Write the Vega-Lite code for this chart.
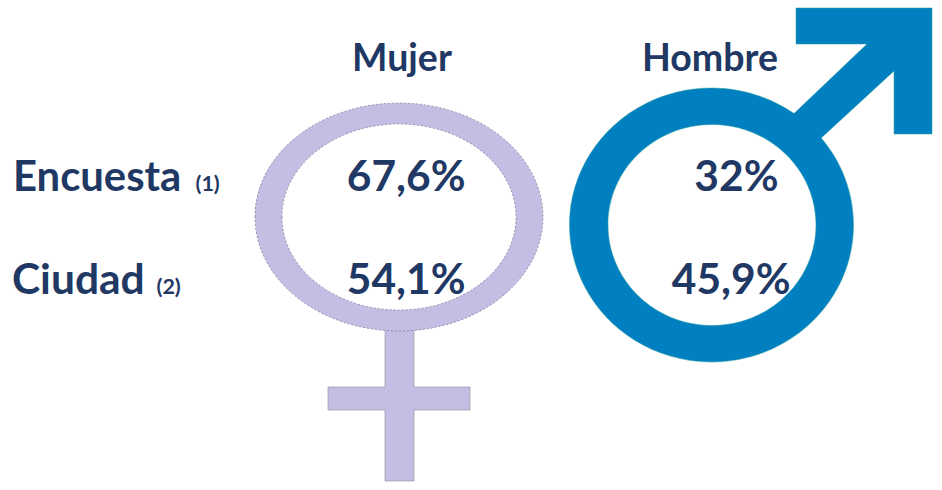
{
  "$schema": "https://vega.github.io/schema/vega-lite/v6.json",
  "width": 942,
  "height": 490,
  "padding": 0,
  "autosize": {"type": "fit", "contains": "padding"},
  "background": "white",
  "config": {"view": {"stroke": null}, "axis": {"disable": true}},
  "datasets": {
    "figuras": [{"grupo": "Mujer"}, {"grupo": "Hombre"}],
    "encabezados": [
      {"grupo": "Mujer", "fila": "Sexo", "texto": "Mujer"},
      {"grupo": "Hombre", "fila": "Sexo", "texto": "Hombre"}
    ],
    "valores": [
      {"grupo": "Mujer", "fila": "Encuesta", "valor": 67.6, "texto": "67,6%"},
      {"grupo": "Mujer", "fila": "Ciudad", "valor": 54.1, "texto": "54,1%"},
      {"grupo": "Hombre", "fila": "Encuesta", "valor": 32, "texto": "32%"},
      {"grupo": "Hombre", "fila": "Ciudad", "valor": 45.9, "texto": "45,9%"}
    ],
    "filas": [
      {"grupo": "Fuente", "fila": "Encuesta", "texto": "Encuesta", "nota": "(1)"},
      {"grupo": "Fuente", "fila": "Ciudad", "texto": "Ciudad", "nota": "(2)"}
    ]
  },
  "encoding": {
    "x": {"field": "grupo", "type": "nominal", "scale": {"type": "point", "domain": ["Fuente", "Mujer", "Hombre"], "range": [87, 711], "padding": 0}}
  },
  "layer": [
    {
      "data": {"name": "figuras"},
      "transform": [{"filter": "datum.grupo === 'Mujer'"}],
      "mark": {"type": "point", "filled": true, "opacity": 1, "size": 4, "fill": "#C5BDE3", "stroke": "#8f8f9a", "strokeWidth": 0.6,
        "shape": "M -14 70 L 15 70 L 15 142 L 71 142 L 71 165 L 15 165 L 15 236 L -14 236 L -14 165 L -71 165 L -71 142 L -14 142 Z"}
    },
    {
      "data": {"name": "figuras"},
      "transform": [{"filter": "datum.grupo === 'Mujer'"}],
      "mark": {"type": "point", "filled": true, "opacity": 1, "size": 4, "fill": "#C5BDE3", "stroke": "#55506a", "strokeWidth": 0.7, "strokeOpacity": 0.7, "strokeDash": [2, 2],
        "shape": "M -144 -28 A 144 114 0 1 1 144 -28 A 144 114 0 1 1 -144 -28 Z M -117 -28 A 117 93 0 1 0 117 -28 A 117 93 0 1 0 -117 -28 Z"}
    },
    {
      "data": {"name": "figuras"},
      "transform": [{"filter": "datum.grupo === 'Hombre'"}],
      "mark": {"type": "point", "filled": true, "opacity": 1, "size": 4, "fill": "#0080C0", "stroke": "#2A9D9F", "strokeWidth": 0.5,
        "shape": "M 83 -131.5 L 156 -201 L 85 -201 L 85 -237 L 221 -237 L 221 -111 L 183 -111 L 183 -174 L 110.2 -107 A 142 137 0 1 1 -141.5 -20 A 142 137 0 0 1 83 -131.5 Z M -103 -20 A 104 100.5 0 1 0 105 -20 A 104 100.5 0 1 0 -103 -20 Z"}
    },
    {
      "data": {"name": "encabezados"},
      "transform": [{"filter": "datum.grupo === 'Mujer'"}],
      "mark": {"type": "text", "font": "Lato", "fontWeight": "bold", "fontSize": 37.5, "color": "#1F3864", "align": "center", "baseline": "alphabetic", "dx": 3, "dy": -17},
      "encoding": {
        "y": {"field": "fila", "type": "nominal", "scale": {"type": "point", "domain": ["Sexo", "Encuesta", "Ciudad"], "range": [88, 294], "padding": 0}},
        "text": {"field": "texto"}
      }
    },
    {
      "data": {"name": "encabezados"},
      "transform": [{"filter": "datum.grupo === 'Hombre'"}],
      "mark": {"type": "text", "font": "Lato", "fontWeight": "bold", "fontSize": 37.5, "color": "#1F3864", "align": "center", "baseline": "alphabetic", "dx": -1, "dy": -17},
      "encoding": {
        "y": {"field": "fila", "type": "nominal", "scale": {"type": "point", "domain": ["Sexo", "Encuesta", "Ciudad"], "range": [88, 294], "padding": 0}},
        "text": {"field": "texto"}
      }
    },
    {
      "data": {"name": "valores"},
      "transform": [{"filter": "datum.grupo === 'Mujer'"}],
      "mark": {"type": "text", "font": "Lato", "fontWeight": "bold", "fontSize": 42.5, "color": "#1F3864", "align": "right", "baseline": "alphabetic", "dx": 66.5},
      "encoding": {
        "y": {"field": "fila", "type": "nominal", "scale": {"type": "point", "domain": ["Sexo", "Encuesta", "Ciudad"], "range": [88, 294], "padding": 0}},
        "text": {"field": "texto"}
      }
    },
    {
      "data": {"name": "valores"},
      "transform": [{"filter": "datum.fila === 'Encuesta' && datum.grupo === 'Hombre'"}],
      "mark": {"type": "text", "font": "Lato", "fontWeight": "bold", "fontSize": 42.5, "color": "#1F3864", "align": "right", "baseline": "alphabetic", "dx": 67.5},
      "encoding": {
        "y": {"field": "fila", "type": "nominal", "scale": {"type": "point", "domain": ["Sexo", "Encuesta", "Ciudad"], "range": [88, 294], "padding": 0}},
        "text": {"field": "texto"}
      }
    },
    {
      "data": {"name": "valores"},
      "transform": [{"filter": "datum.fila === 'Ciudad' && datum.grupo === 'Hombre'"}],
      "mark": {"type": "text", "font": "Lato", "fontWeight": "bold", "fontSize": 42.5, "color": "#1F3864", "align": "right", "baseline": "alphabetic", "dx": 79.5},
      "encoding": {
        "y": {"field": "fila", "type": "nominal", "scale": {"type": "point", "domain": ["Sexo", "Encuesta", "Ciudad"], "range": [88, 294], "padding": 0}},
        "text": {"field": "texto"}
      }
    },
    {
      "data": {"name": "filas"},
      "transform": [{"filter": "datum.fila === 'Encuesta'"}],
      "mark": {"type": "text", "font": "Lato", "fontWeight": "bold", "fontSize": 41.8, "color": "#1F3864", "align": "left", "baseline": "alphabetic", "dx": -74},
      "encoding": {
        "y": {"field": "fila", "type": "nominal", "scale": {"type": "point", "domain": ["Sexo", "Encuesta", "Ciudad"], "range": [88, 294], "padding": 0}},
        "text": {"field": "texto"}
      }
    },
    {
      "data": {"name": "filas"},
      "transform": [{"filter": "datum.fila === 'Ciudad'"}],
      "mark": {"type": "text", "font": "Lato", "fontWeight": "bold", "fontSize": 42.5, "color": "#1F3864", "align": "left", "baseline": "alphabetic", "dx": -75},
      "encoding": {
        "y": {"field": "fila", "type": "nominal", "scale": {"type": "point", "domain": ["Sexo", "Encuesta", "Ciudad"], "range": [88, 294], "padding": 0}},
        "text": {"field": "texto"}
      }
    },
    {
      "data": {"name": "filas"},
      "transform": [{"filter": "datum.fila === 'Encuesta'"}],
      "mark": {"type": "text", "font": "Lato", "fontWeight": "bold", "fontSize": 21.5, "color": "#1F3864", "align": "left", "baseline": "alphabetic", "dx": 108.5},
      "encoding": {
        "y": {"field": "fila", "type": "nominal", "scale": {"type": "point", "domain": ["Sexo", "Encuesta", "Ciudad"], "range": [88, 294], "padding": 0}},
        "text": {"field": "nota"}
      }
    },
    {
      "data": {"name": "filas"},
      "transform": [{"filter": "datum.fila === 'Ciudad'"}],
      "mark": {"type": "text", "font": "Lato", "fontWeight": "bold", "fontSize": 21.5, "color": "#1F3864", "align": "left", "baseline": "alphabetic", "dx": 69.5},
      "encoding": {
        "y": {"field": "fila", "type": "nominal", "scale": {"type": "point", "domain": ["Sexo", "Encuesta", "Ciudad"], "range": [88, 294], "padding": 0}},
        "text": {"field": "nota"}
      }
    }
  ]
}
